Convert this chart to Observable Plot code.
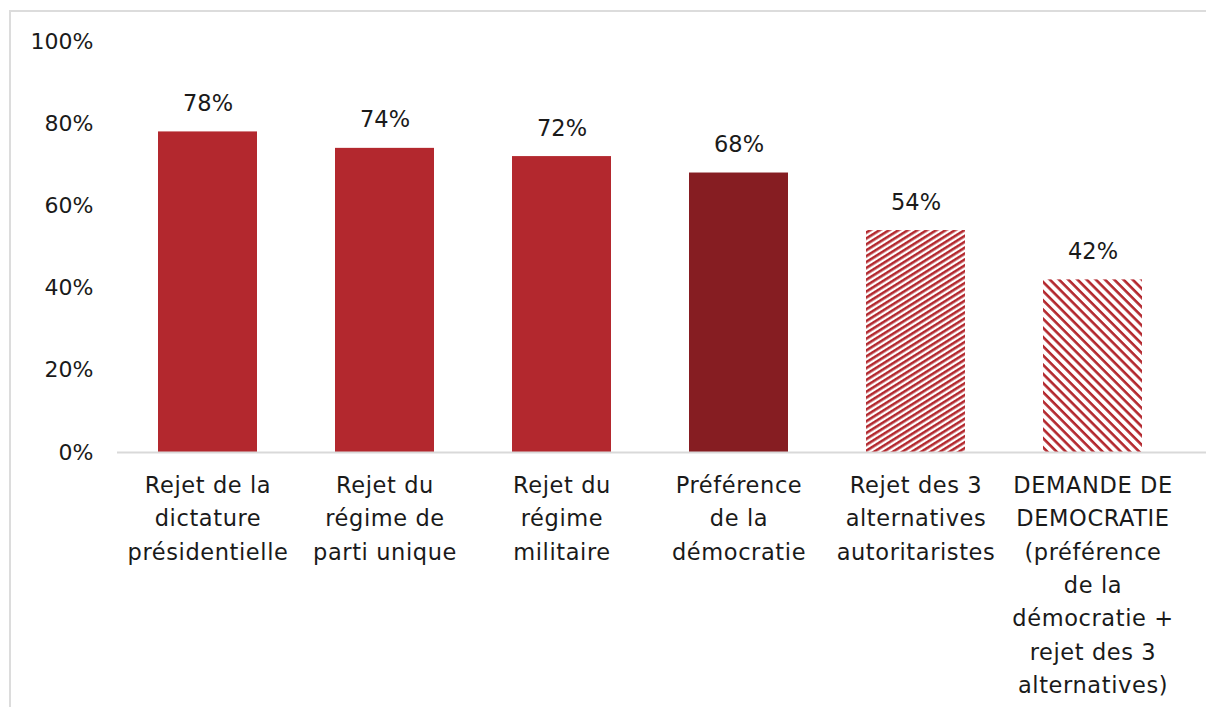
<!DOCTYPE html>
<html>
<head>
<meta charset="utf-8">
<script src="https://cdn.jsdelivr.net/npm/d3@7"></script>
<script src="https://cdn.jsdelivr.net/npm/@observablehq/plot@0.6"></script>
<style>
  html, body { margin: 0; padding: 0; background: #fff; }
  #wrap { position: relative; width: 1206px; height: 707px; overflow: hidden; }
  #frame { position: absolute; left: 9px; top: 10px; right: -2px; bottom: -2px; border-left: 2px solid #dcdcdc; border-top: 2px solid #dcdcdc; }
  #chart { position: absolute; left: 0; top: 0; }
  .xlab text { letter-spacing: 0.6px; }
</style>
</head>
<body>
<div id="wrap"><div id="frame"></div><div id="chart"></div></div>
<script>
const categories = [
  "Rejet de la dictature présidentielle",
  "Rejet du régime de parti unique",
  "Rejet du régime militaire",
  "Préférence de la démocratie",
  "Rejet des 3 alternatives autoritaristes",
  "DEMANDE DE DEMOCRATIE (préférence de la démocratie + rejet des 3 alternatives)"
];
const tickLabels = [
  "Rejet de la\ndictature\nprésidentielle",
  "Rejet du\nrégime de\nparti unique",
  "Rejet du\nrégime\nmilitaire",
  "Préférence\nde la\ndémocratie",
  "Rejet des 3\nalternatives\nautoritaristes",
  "DEMANDE DE\nDEMOCRATIE\n(préférence\nde la\ndémocratie +\nrejet des 3\nalternatives)"
];
const values = [78, 74, 72, 68, 54, 42];
const yTicks = [0, 20, 40, 60, 80, 100];

const data = categories.map((c, i) => ({cat: c, value: values[i], label: tickLabels[i], idx: i}));

const RED = "#b3282e";
const DARK = "#861d22";
function fillFor(i) {
  if (i === 3) return DARK;
  if (i === 4) return "url(#hatchUp)";
  if (i === 5) return "url(#hatchDown)";
  return RED;
}

const chart = Plot.plot({
  width: 1206,
  height: 707,
  marginTop: 41,
  marginBottom: 255,
  marginLeft: 117,
  marginRight: 22,
  style: {fontFamily: "'DejaVu Sans', sans-serif", color: "#1a1a1a", background: "transparent"},
  x: {domain: categories, paddingInner: 0.44, paddingOuter: 0.22, axis: null},
  y: {domain: [0, 100], axis: null},
  marks: [
    ...[0,1,2,3,4,5].map(k => Plot.barY(data.filter(d => d.idx === k), {x: "cat", y: "value", fill: fillFor(k)})),
    Plot.ruleY([0], {stroke: "#d9d9d9", strokeWidth: 2, insetRight: -22}),
    Plot.text(data, {x: "cat", y: "value", text: d => d.value + "%", lineAnchor: "bottom", dy: -21, fontSize: 22.5, fill: "#1a1a1a"}),
    Plot.text(data, {x: "cat", y: 0, text: "label", lineAnchor: "top", dy: 17, fontSize: 22.5, lineHeight: 1.48, fill: "#1a1a1a", className: "xlab"}),
    Plot.axisY({ticks: yTicks, tickSize: 0, tickPadding: 24, fontSize: 22, tickFormat: d => d + "%", fill: "#1a1a1a", label: null})
  ]
});

const ns = "http://www.w3.org/2000/svg";
const defs = document.createElementNS(ns, "defs");
defs.innerHTML = `
  <pattern id="hatchUp" patternUnits="userSpaceOnUse" width="5" height="5" patternTransform="rotate(-32)">
    <rect width="5" height="5" fill="#ffffff"/>
    <rect width="5" height="2.6" fill="${RED}"/>
  </pattern>
  <pattern id="hatchDown" patternUnits="userSpaceOnUse" width="6.5" height="6.5" patternTransform="rotate(45)">
    <rect width="6.5" height="6.5" fill="#ffffff"/>
    <rect width="6.5" height="2.6" fill="${RED}"/>
  </pattern>`;
chart.insertBefore(defs, chart.firstChild);
document.getElementById("chart").appendChild(chart);
</script>
</body>
</html>
